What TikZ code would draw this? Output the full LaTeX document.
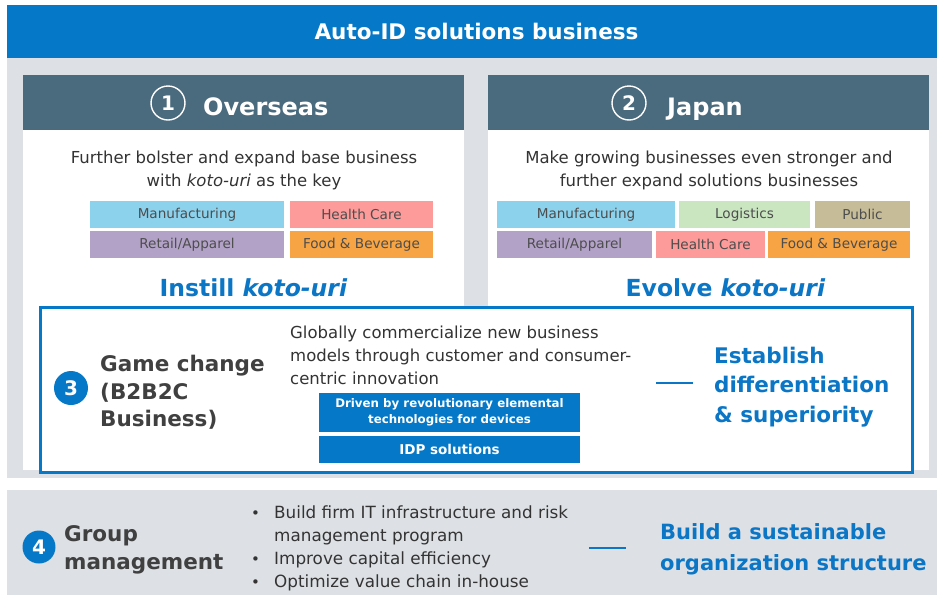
\documentclass[tikz,border=0pt]{standalone}
\usepackage{fontspec}
\setmainfont{DejaVu Sans}
\definecolor{idblue}{HTML}{0578C8}
\definecolor{accent}{HTML}{0B76C5}
\definecolor{panelgray}{HTML}{DDE1E5}
\definecolor{slate}{HTML}{4A6A7D}
\definecolor{inkdark}{HTML}{333333}
\definecolor{inkhead}{HTML}{404040}
\definecolor{catink}{HTML}{4D4D4D}
\definecolor{cmanu}{HTML}{8DD2EC}
\definecolor{chealth}{HTML}{FD9A9A}
\definecolor{cretail}{HTML}{B3A2C8}
\definecolor{cfood}{HTML}{F6A444}
\definecolor{clogi}{HTML}{C9E6C0}
\definecolor{cpublic}{HTML}{C6BC98}
\newcommand{\listdot}{\makebox[23pt][l]{\raisebox{0.5pt}{\fontsize{15}{15}\selectfont •}}}
\begin{document}
\begin{tikzpicture}[x=1pt,y=-1pt,
  block/.style={rectangle, inner sep=0pt, outer sep=0pt},
  cat/.style={rectangle, inner sep=0pt, minimum height=27pt, text=catink,
    font=\fontsize{13.6}{16}\selectfont},
  numring/.style={circle, draw=white, line width=1.4pt, minimum size=34pt,
    inner sep=0pt, text=white, font=\bfseries\fontsize{20}{20}\selectfont},
  numdisc/.style={circle, fill=idblue, minimum size=34pt, inner sep=0pt,
    text=white, font=\bfseries\fontsize{20}{20}\selectfont},
  headtext/.style={inner sep=0pt, text=white, font=\bfseries\fontsize{24}{24}\selectfont},
  bodytext/.style={inner sep=0pt, text=inkdark, align=center,
    font=\fontsize{16.5}{23}\selectfont},
  goal/.style={inner sep=0pt, text=accent, font=\bfseries\fontsize{23.5}{24}\selectfont},
  topic/.style={inner sep=0pt, text=inkhead, align=left},
  tech/.style={rectangle, fill=idblue, inner sep=0pt, text=white, align=center,
    minimum width=261pt},
  link/.style={draw=accent, line width=1.6pt}]

% canvas
\path[use as bounding box, fill=white] (0,0) rectangle (937,603);

% title banner
\node[block, fill=idblue, minimum width=930pt, minimum height=53pt,
  text=white, font=\bfseries\fontsize{21.5}{22}\selectfont] (banner) at (472,31.5)
  {\hspace*{9pt}Auto-ID solutions business};

% grey backdrop of the two regional panels
\node[block, fill=panelgray, minimum width=930pt, minimum height=420pt] (backdrop) at (472,268) {};

% overseas panel
\node[block, fill=white, minimum width=441pt, minimum height=340pt] (ovbody) at (243.5,300) {};
\node[block, fill=slate, minimum width=441pt, minimum height=55pt] (ovhead) at (243.5,102.5) {};
\node[numring] (n1) at (168,103) {1};
\node[headtext, anchor=base west] (ovtitle) at (203,115) {Overseas};
\node[bodytext] (ovtext) at (244,170)
  {Further bolster and expand base business\\with \textit{koto-uri} as the key};
\node[cat, fill=cmanu, minimum width=194pt] (ovmanu) at (187,214.5) {Manufacturing};
\node[cat, fill=chealth, minimum width=143pt] (ovhealth) at (361.5,214.5) {Health Care};
\node[cat, fill=cretail, minimum width=194pt] (ovretail) at (187,244.5) {Retail/Apparel};
\node[cat, fill=cfood, minimum width=143pt] (ovfood) at (361.5,244.5) {Food \& Beverage};
\node[goal, anchor=base] (instill) at (253.5,296) {Instill \textit{koto-uri}};

% japan panel
\node[block, fill=white, minimum width=441pt, minimum height=340pt] (jpbody) at (708.5,300) {};
\node[block, fill=slate, minimum width=441pt, minimum height=55pt] (jphead) at (708.5,102.5) {};
\node[numring] (n2) at (629,103) {2};
\node[headtext, anchor=base west] (jptitle) at (667,115) {Japan};
\node[bodytext] (jptext) at (709,170)
  {Make growing businesses even stronger and\\further expand solutions businesses};
\node[cat, fill=cmanu, minimum width=178pt] (jpmanu) at (586,214.5) {Manufacturing};
\node[cat, fill=clogi, minimum width=131pt] (jplogi) at (744.5,214.5) {Logistics};
\node[cat, fill=cpublic, minimum width=95pt] (jppublic) at (862.5,214.5) {Public};
\node[cat, fill=cretail, minimum width=155pt] (jpretail) at (574.5,244.5) {Retail/Apparel};
\node[cat, fill=chealth, minimum width=109pt] (jphealth) at (710.5,244.5) {Health Care};
\node[cat, fill=cfood, minimum width=142pt] (jpfood) at (839,244.5) {Food \& Beverage};
\node[goal, anchor=base] (evolve) at (725.5,296) {Evolve \textit{koto-uri}};

% game change frame
\node[block, fill=white, draw=idblue, line width=3pt, minimum width=872pt,
  minimum height=165pt] (gframe) at (476,389.5) {};
\node[numdisc] (n3) at (71,388) {3};
\node[topic, anchor=west, font=\bfseries\fontsize{21.5}{27.5}\selectfont] (gtitle) at (100,392.5)
  {Game change\\(B2B2C\\Business)};
\node[bodytext, align=left, anchor=west] (gtext) at (290,355)
  {Globally commercialize new business\\models through customer and consumer-\\centric innovation};
\node[tech, minimum height=39pt, font=\bfseries\fontsize{11.8}{16.5}\selectfont] (driven) at (449.5,412.5)
  {Driven by revolutionary elemental\\technologies for devices};
\node[tech, minimum height=27pt, font=\bfseries\fontsize{13.5}{14}\selectfont] (idp) at (449.5,449.5)
  {IDP solutions};
\coordinate (d1a) at (656,383);
\coordinate (d1b) at (693,383);
\draw[link] (d1a) -- (d1b);
\node[goal, anchor=west, align=left, font=\bfseries\fontsize{21.5}{29.5}\selectfont] (establish) at (714,387)
  {Establish\\differentiation\\\& superiority};

% group management band
\node[block, fill=panelgray, minimum width=930pt, minimum height=105pt] (gmband) at (472,542.5) {};
\node[numdisc, minimum size=33pt] (n4) at (39,547) {4};
\node[topic, anchor=west, font=\bfseries\fontsize{21.5}{28}\selectfont] (gmtitle) at (64,550)
  {Group\\management};
\node[bodytext, align=left, anchor=west, font=\fontsize{16.8}{23}\selectfont] (gmlist) at (251,548.5)
  {\listdot Build firm IT infrastructure and risk\\
   \hspace*{23pt}management program\\
   \listdot Improve capital efficiency\\
   \listdot Optimize value chain in-house};
\coordinate (d2a) at (589,548);
\coordinate (d2b) at (626,548);
\draw[link] (d2a) -- (d2b);
\node[goal, anchor=west, align=left, font=\bfseries\fontsize{21}{31}\selectfont] (sustain) at (660,549.5)
  {Build a sustainable\\organization structure};
\end{tikzpicture}
\end{document}
